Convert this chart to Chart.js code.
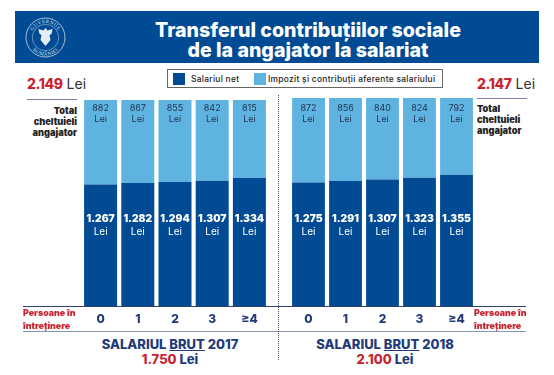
<!DOCTYPE html>
<html lang="ro"><head><meta charset="utf-8">
<script src="https://cdn.jsdelivr.net/npm/chart.js@4"></script>
<style>
html,body{margin:0;padding:0;background:#fff;width:554px;height:375px;overflow:hidden}
body{position:relative;font-family:Inter,sans-serif}
.a{position:absolute;white-space:nowrap}
canvas{position:absolute}
.hdr{left:15px;top:11px;width:524px;height:52px;background:#004b93}
.title{left:108px;width:400px;top:20px;text-align:center;color:#fff;font-weight:800;font-size:19.6px;line-height:20px}
.leg{left:167px;top:69px;width:274px;height:17px;border:1px solid #666;background:#fff}
.sw{top:73px;width:12px;height:12px}
.legt{top:72.500px;font-size:8.400px;line-height:12px;font-weight:500;color:#222;letter-spacing:.3px}
.tot{top:76px;font-size:14px;line-height:16px;color:#333}
.tot b{color:#c8242f;font-weight:800;letter-spacing:-.4px}
.rule{height:1px;background:#7d7fa8}
.side{font-size:9.200px;line-height:11.200px;font-weight:900;color:#222}
.pers{font-size:8.900px;line-height:12.500px;font-weight:900;color:#c8242f}
.sal{top:337px;text-align:center;color:#233a78;font-weight:800;font-size:13px;line-height:14.500px}
.sal u{font-weight:800}.sal b{color:#c8242f;font-weight:800}
</style></head><body>
<div class="a hdr"></div>
<svg class="a" style="left:24.500px;top:17px" width="41" height="41" viewBox="0 0 41 41">
<defs><path id="t" d="M6 20.500a14.500 14.500 0 0 1 29 0"/><path id="b" d="M2.500 20.500a18 18 0 0 0 36 0"/></defs>
<circle cx="20.500" cy="20.500" r="19.500" fill="none" stroke="#cfdcec" stroke-width=".8"/>
<circle cx="20.500" cy="20.500" r="13.200" fill="none" stroke="#cfdcec" stroke-width=".5"/>
<path d="M20.500 11l2 2.500 5-1.500-1 5-2 1 1 5-5 6-5-6 1-5-2-1-1-5 5 1.500z" fill="#e6edf5"/>
<text font-size="5" fill="#dfe8f3" font-family="Liberation Serif" letter-spacing=".5"><textPath href="#t" startOffset="50%" text-anchor="middle">GUVERNUL</textPath></text>
<text font-size="5" fill="#dfe8f3" font-family="Liberation Serif" letter-spacing=".5"><textPath href="#b" startOffset="50%" text-anchor="middle">ROMÂNIEI</textPath></text>
</svg>
<div class="a title">Transferul contribuțiilor sociale<br>de la angajator la salariat</div>
<div class="a leg"></div>
<div class="a sw" style="left:173px;background:#004b93"></div>
<div class="a legt" style="left:191px">Salariul net</div>
<div class="a sw" style="left:254px;background:#5fb3e0"></div>
<div class="a legt" style="left:268px">Impozit și contribuții aferente salariului</div>
<div class="a tot" style="left:27px"><b>2.149</b> Lei</div>
<div class="a tot" style="left:477px"><b>2.147</b> Lei</div>
<div class="a rule" style="left:27px;top:99px;width:50px"></div>
<div class="a rule" style="left:477px;top:98px;width:50px"></div>
<div class="a side" style="left:10px;width:67px;top:104.500px;text-align:right">Total<br>cheltuieli<br>angajator</div>
<div class="a side" style="left:477px;top:102.500px">Total<br>cheltuieli<br>angajator</div>
<canvas id="c1" class="a" style="left:82px;top:100px"></canvas>
<canvas id="c2" class="a" style="left:290px;top:98px"></canvas>
<div class="a" style="left:23px;top:306px;width:503px;height:1px;background:#2f3f70"></div>
<div class="a" style="left:23px;top:330.500px;width:503px;height:1.500px;background:#8792b8"></div>
<div class="a" style="left:277.500px;top:95px;height:265px;border-left:1px dotted #555"></div>
<div class="a pers" style="left:23px;top:307px">Persoane în<br>întreținere</div>
<div class="a pers" style="left:474px;top:307px">Persoane în<br>întreținere</div>
<div class="a sal" style="left:70px;width:200px">SALARIUL <u>BRUT</u> 2017<br><b>1.750</b> Lei</div>
<div class="a sal" style="left:285px;width:200px">SALARIUL <u>BRUT</u> 2018<br><b>2.100</b> Lei</div>
<script>
const categories = ['0','1','2','3','≥4'];
const net2017 = [1267,1282,1294,1307,1334];
const tax2017 = [882,867,855,842,815];
const net2018 = [1275,1291,1307,1323,1355];
const tax2018 = [872,856,840,824,792];
const total2017 = 2149;
const total2018 = 2147;
const DARK='#004b93', LIGHT='#5fb3e0';
const labelPlugin={id:'vals',afterDatasetsDraw(chart){
  const {ctx}=chart;ctx.save();ctx.textAlign='center';ctx.textBaseline='middle';
  const off=chart.canvas.offsetTop;
  chart.getDatasetMeta(1).data.forEach((bar,i)=>{
    ctx.fillStyle='#1f3350';ctx.font='400 9px Inter';
    ctx.fillText(String(chart.data.datasets[1].data[i]),bar.x,108-off);
    ctx.fillText('Lei',bar.x,119.500-off);
  });
  chart.getDatasetMeta(0).data.forEach((bar,i)=>{
    const v=chart.data.datasets[0].data[i];
    ctx.fillStyle='#fff';ctx.font='900 10.300px Inter';
    ctx.fillText(String(v).replace(/(\d)(\d{3})$/,'$1.$2'),bar.x,218.500-off);
    ctx.font='400 10px Inter';
    ctx.fillText('Lei',bar.x,232-off);
  });
  ctx.restore();
}};
function make(id,w,h,net,tax,max){
  const el=document.getElementById(id);el.style.width=w+'px';el.style.height=h+'px';el.width=w;el.height=h;
  new Chart(el,{type:'bar',plugins:[labelPlugin],data:{labels:categories,datasets:[
    {label:'Salariul net',data:net,backgroundColor:DARK,stack:'s',barPercentage:33/37.200,categoryPercentage:1},
    {label:'Impozit și contribuții aferente salariului',data:tax,backgroundColor:LIGHT,stack:'s',barPercentage:33/37.200,categoryPercentage:1}]},
   options:{responsive:false,animation:false,devicePixelRatio:1,layout:{padding:0},
    plugins:{legend:{display:false},tooltip:{enabled:false}},
    scales:{x:{stacked:true,grid:{display:false,drawTicks:false},border:{display:false},
      afterFit(s){s.height=26},
      ticks:{color:'#233a78',font:{family:'Inter',size:12,weight:800},padding:6,maxRotation:0}},
     y:{stacked:true,display:false,min:0,max:max}}}});
}
make('c1',186,232,net2017,tax2017,total2017);
make('c2',185,234,net2018,tax2018,total2018);
</script>
</body></html>
